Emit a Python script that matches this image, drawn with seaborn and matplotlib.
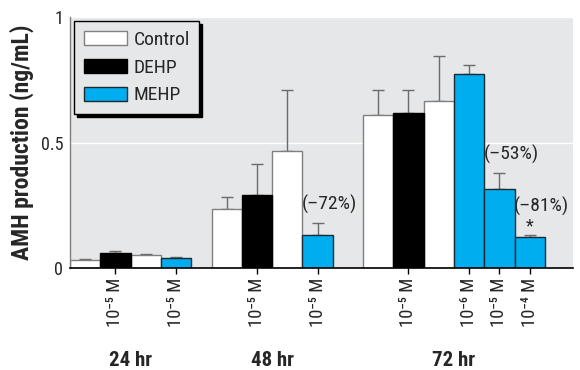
import pandas as pd
import numpy as np
import matplotlib.pyplot as plt
import seaborn as sns
from matplotlib.patches import Patch
from matplotlib.colors import to_hex
from matplotlib import font_manager as fm

sns.set_theme(style="white", rc={'axes.facecolor': '#E6E7E8'})

# pick a narrow face if one is installed
have = {f.name for f in fm.fontManager.ttflist}
narrow = [n for n in ['Liberation Sans Narrow', 'Roboto Condensed',
                      'Noto Sans Condensed', 'Open Sans Condensed',
                      'DejaVu Sans Condensed'] if n in have]
plt.rcParams['font.family'] = narrow[:1] + ['DejaVu Sans']
plt.rcParams['font.stretch'] = 'condensed'

# data
hours = ['24 hr']*4 + ['48 hr']*4 + ['72 hr']*6
treat = ['Control', 'DEHP', 'Control', 'MEHP',
         'Control', 'DEHP', 'Control', 'MEHP',
         'Control', 'DEHP', 'Control', 'MEHP', 'MEHP', 'MEHP']
dose = ['', '10⁻⁵ M', '', '10⁻⁵ M',
        '', '10⁻⁵ M', '', '10⁻⁵ M',
        '', '10⁻⁵ M', '', '10⁻⁶ M', '10⁻⁵ M', '10⁻⁴ M']
amh = [0.032, 0.058, 0.050, 0.039,
       0.234, 0.290, 0.466, 0.130,
       0.610, 0.617, 0.664, 0.773, 0.313, 0.124]
err = [0.004, 0.010, 0.007, 0.004,
       0.048, 0.124, 0.243, 0.049,
       0.098, 0.093, 0.179, 0.037, 0.067, 0.006]
note_bar = [7, 12, 13]
note_txt = ['(–72%)', '(–53%)', '(–81%)']
note_y = [0.255, 0.452, 0.245]

colors = {'Control': '#FFFFFF', 'DEHP': '#000000', 'MEHP': '#00AEEF'}
edges = {'#ffffff': '#808080', '#000000': '#000000', '#00aeef': '#1b2a33'}

# layout of groups along x
group_start = {'24 hr': 0.0, '48 hr': 4.67, '72 hr': 9.67}
pos = []
for i, h in enumerate(hours):
    k = hours[:i].count(h)
    pos.append(group_start[h] + k + 0.5)

df = pd.DataFrame({'pos': pos, 'hour': hours, 'treat': treat,
                   'dose': dose, 'amh': amh, 'err': err})

fig = plt.figure(figsize=(5.8, 3.7), dpi=100)
ax = fig.add_axes([0.1207, 0.2757, 0.8673, 0.6783])

sns.barplot(data=df, x='pos', y='amh', hue='treat', palette=colors,
            native_scale=True, dodge=False, width=1, errorbar=None,
            saturation=1, legend=False, ax=ax, zorder=3)
for p in ax.patches:
    p.set_edgecolor(edges.get(to_hex(p.get_facecolor()), 'black'))
    p.set_linewidth(1.0)

ax.errorbar(df['pos'], df['amh'], yerr=[np.zeros(len(df)), df['err']],
            fmt='none', ecolor='#6b6b6b', elinewidth=1, capsize=4.3,
            capthick=1, zorder=2)

ax.set_xlim(0, 16.6)
ax.set_ylim(0, 1)
ax.set_yticks([0, 0.5, 1])
ax.set_yticklabels(['0', '0.5', '1'], fontsize=13)
ax.yaxis.grid(True, color='white', linewidth=1)
ax.set_axisbelow(True)
ax.tick_params(axis='y', length=0, pad=5)

lab = df[df['dose'] != '']
ax.set_xticks(lab['pos'])
ax.set_xticklabels(lab['dose'], rotation=90, fontsize=13.5)
ax.tick_params(axis='x', length=4, width=1, color='black', direction='out',
               bottom=True, pad=3)
ax.set_xlabel('')
ax.set_ylabel('AMH production (ng/mL)', fontsize=17, fontweight='bold',
              labelpad=5)

for s in ['top', 'right']:
    ax.spines[s].set_visible(False)
ax.spines['left'].set_color('#808080')
ax.spines['left'].set_linewidth(1.0)
ax.spines['bottom'].set_color('black')
ax.spines['bottom'].set_linewidth(1.2)
for s in ['left', 'bottom']:
    ax.spines[s].set_zorder(5)

trans = ax.get_xaxis_transform()
for h in group_start:
    sub = df[df['hour'] == h]
    mid = (sub['pos'].min() + sub['pos'].max()) / 2
    ax.text(mid, -0.37, h, transform=trans, ha='center', va='center',
            fontsize=15, fontweight='bold')

for i, t, y in zip(note_bar, note_txt, note_y):
    ax.text(df['pos'][i] - 0.52, y, t, ha='left', va='center', fontsize=14)
ax.text(df['pos'][13], 0.165, '*', ha='center', va='center', fontsize=13)

handles = [Patch(facecolor='#FFFFFF', edgecolor='#808080', label='Control'),
           Patch(facecolor='#000000', edgecolor='#000000', label='DEHP'),
           Patch(facecolor='#00AEEF', edgecolor='#1b2a33', label='MEHP')]
leg = ax.legend(handles=handles, loc='upper left', bbox_to_anchor=(0.008, 0.983),
                fontsize=14, fancybox=False, framealpha=1, edgecolor='black',
                shadow={'color': 'black', 'alpha': 1}, handlelength=2.2,
                handleheight=0.75, borderpad=0.5, labelspacing=0.5,
                handletextpad=0.35, borderaxespad=0)
leg.get_frame().set_linewidth(1.0)
leg.set_zorder(6)

fig.savefig('out.png', dpi=100)
